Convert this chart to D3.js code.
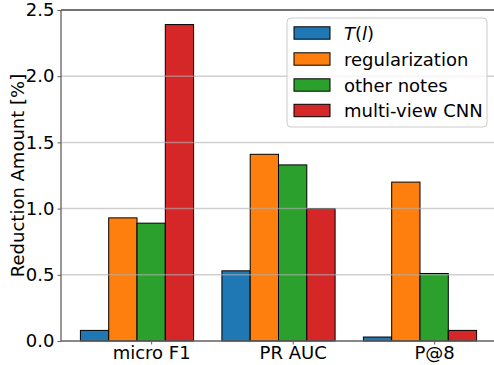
<!DOCTYPE html>
<html><head><meta charset="utf-8">
<script src="https://cdn.jsdelivr.net/npm/d3@7"></script>
<style>body{margin:0;background:#fff}svg{display:block}text{font-family:"DejaVu Sans",sans-serif}</style>
</head><body>
<svg id="c" width="494" height="365"></svg>
<script>
const categories = ["micro F1", "PR AUC", "P@8"];
const seriesNames = ["T(l)", "regularization", "other notes", "multi-view CNN"];
const seriesColors = ["#1f77b4", "#ff7f0e", "#2ca02c", "#d62728"];
const valsT = [0.08, 0.53, 0.03];
const valsReg = [0.93, 1.41, 1.20];
const valsOther = [0.89, 1.33, 0.51];
const valsCNN = [2.39, 1.00, 0.08];
const yTicks = [0.0, 0.5, 1.0, 1.5, 2.0, 2.5];

const series = [valsT, valsReg, valsOther, valsCNN];
const svg = d3.select("#c");
const L = 61, T = 10, B = 341;
const FS = 18;
const x = d3.scaleLinear().domain([-0.54, 2.54]).range([60.6, 496.4]);
const y = d3.scaleLinear().domain([0, 2.5]).range([B, T]);
const bw = 0.2;

// bars
series.forEach((vals, si) => {
  svg.append("g").selectAll("rect").data(vals).join("rect")
    .attr("x", (d, i) => x(i + (si - 1.5) * bw - bw / 2))
    .attr("width", (d, i) => x(i + (si - 1.5) * bw + bw / 2) - x(i + (si - 1.5) * bw - bw / 2))
    .attr("y", d => y(d))
    .attr("height", d => y(0) - y(d))
    .attr("fill", seriesColors[si])
    .attr("stroke", "#000").attr("stroke-width", 1);
});

// grid (on top of bars)
svg.append("g").selectAll("line").data(yTicks.slice(1)).join("line")
  .attr("x1", L).attr("x2", 494).attr("y1", d => y(d)).attr("y2", d => y(d))
  .attr("stroke", "#b0b0b0").attr("stroke-opacity", 0.6).attr("stroke-width", 1.5);

// y axis
const yAxis = d3.axisLeft(y).tickValues(yTicks).tickFormat(d3.format(".1f")).tickSize(3.5).tickPadding(3);
const gy = svg.append("g").attr("transform", `translate(${L},0)`).call(yAxis);
gy.select(".domain").remove();
gy.selectAll(".tick line").attr("stroke", "#606060");
gy.selectAll(".tick text").attr("font-size", FS).attr("fill", "#000").attr("font-family", "DejaVu Sans");

// x axis (ticks at the centre of the third bar)
const xAxis = d3.axisBottom(x).tickValues([0.1, 1.1, 2.1]).tickFormat(v => categories[Math.round(v - 0.1)]).tickSize(3.5).tickPadding(1.5);
const gx = svg.append("g").attr("transform", `translate(0,${B})`).call(xAxis);
gx.select(".domain").remove();
gx.selectAll(".tick line").attr("stroke", "#606060");
gx.selectAll(".tick text").attr("font-size", FS).attr("fill", "#000").attr("font-family", "DejaVu Sans");

// spines
svg.append("line").attr("x1", L).attr("x2", L).attr("y1", T).attr("y2", B).attr("stroke", "#606060").attr("stroke-width", 1.3);
svg.append("line").attr("x1", L).attr("x2", 494).attr("y1", B).attr("y2", B).attr("stroke", "#606060").attr("stroke-width", 1.3);
svg.append("line").attr("x1", L).attr("x2", 494).attr("y1", T).attr("y2", T).attr("stroke", "#505050").attr("stroke-width", 1.5);

// y label
svg.append("text").attr("transform", `translate(23.5,${(T + B) / 2}) rotate(-90)`)
  .attr("text-anchor", "middle").attr("font-size", FS).text("Reduction Amount [%]");

// legend
const lg = svg.append("g");
lg.append("rect").attr("x", 287).attr("y", 18).attr("width", 200).attr("height", 109).attr("rx", 4)
  .attr("fill", "#fff").attr("fill-opacity", 0.8).attr("stroke", "#cccccc").attr("stroke-width", 1);
const rowY = [33, 59, 85, 110.5];
seriesNames.forEach((name, i) => {
  lg.append("rect").attr("x", 294).attr("y", rowY[i] - 6.2).attr("width", 36).attr("height", 12.4)
    .attr("fill", seriesColors[i]).attr("stroke", "#000").attr("stroke-width", 1);
  const t = lg.append("text").attr("x", 344).attr("y", rowY[i] + 6.5).attr("font-size", FS);
  if (i === 0) {
    t.append("tspan").attr("font-style", "italic").text("T");
    t.append("tspan").text("(");
    t.append("tspan").attr("font-style", "italic").text("l");
    t.append("tspan").text(")");
  } else t.text(name);
});
</script>
</body></html>
